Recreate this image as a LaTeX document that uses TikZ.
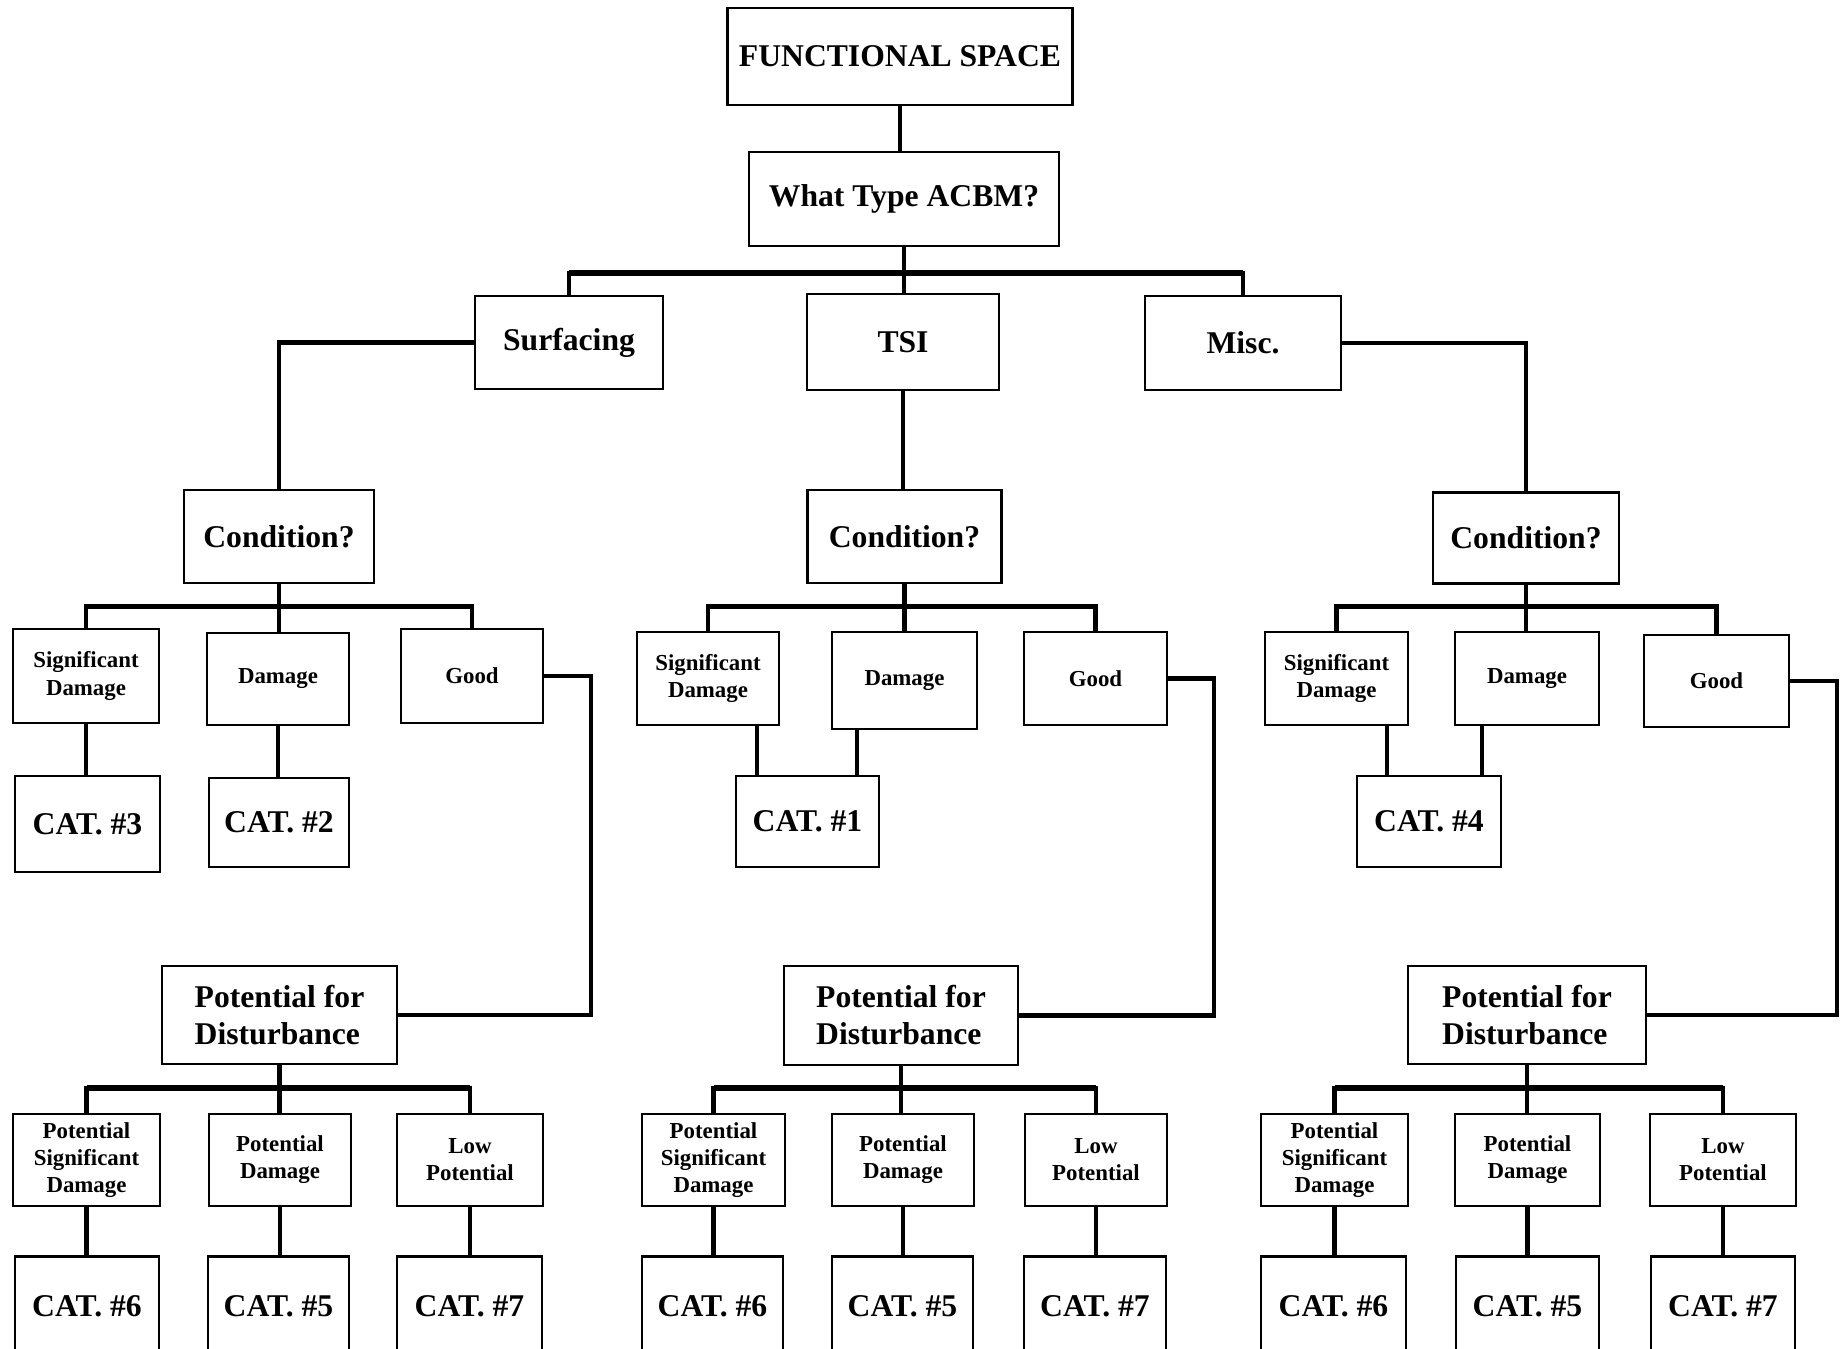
\documentclass[tikz,border=0pt]{standalone}
\usepackage{fontspec}
\setmainfont{Liberation Serif}
\usepackage{tikz}
\tikzset{
  box/.style={
    rectangle, draw=black, line width=0.75pt,
    inner sep=2pt, align=center,
    font=\bfseries\fontsize{9}{10.5}\selectfont
  },
  smallbox/.style={
    box, font=\bfseries\fontsize{6.5}{7.7}\selectfont
  },
  link/.style={line width=1.2pt},
  branch/.style={line width=1.7pt}
}
\begin{document}
\begin{tikzpicture}[x=0.01cm, y=-0.01cm]
  \useasboundingbox (0,0) rectangle (1843,1349);
  \clip (0,0) rectangle (1843,1349);
  \fill[white] (0,0) rectangle (1843,1349);

  % top of the tree
  \node[box, minimum width=3.45cm, minimum height=0.97cm] (space) at (900,56.5) {FUNCTIONAL SPACE};
  \node[box, minimum width=3.10cm, minimum height=0.94cm] (acbm) at (904,199) {What Type ACBM?};
  \node[box, minimum width=1.88cm, minimum height=0.93cm] (surf) at (569,342.5) {Surfacing};
  \node[box, minimum width=1.92cm, minimum height=0.96cm] (tsi) at (903,342) {TSI};
  \node[box, minimum width=1.96cm, minimum height=0.94cm] (misc) at (1243,343) {Misc.};

  % condition
  \node[box, minimum width=1.90cm, minimum height=0.93cm] (condA) at (279,536.5) {Condition?};
  \node[box, minimum width=1.94cm, minimum height=0.93cm] (condB) at (904.5,536.5) {Condition?};
  \node[box, minimum width=1.86cm, minimum height=0.91cm] (condC) at (1526,538) {Condition?};

  \node[smallbox, minimum width=1.46cm, minimum height=0.94cm] (sigA) at (86,676) {Significant\\Damage};
  \node[smallbox, minimum width=1.42cm, minimum height=0.92cm] (dmgA) at (278,679) {Damage};
  \node[smallbox, minimum width=1.42cm, minimum height=0.94cm] (goodA) at (472,676) {Good};
  \node[smallbox, minimum width=1.42cm, minimum height=0.93cm] (sigB) at (708,678.5) {Significant\\Damage};
  \node[smallbox, minimum width=1.45cm, minimum height=0.97cm] (dmgB) at (904.5,680.5) {Damage};
  \node[smallbox, minimum width=1.43cm, minimum height=0.93cm] (goodB) at (1095.5,678.5) {Good};
  \node[smallbox, minimum width=1.43cm, minimum height=0.93cm] (sigC) at (1336.5,678.5) {Significant\\Damage};
  \node[smallbox, minimum width=1.44cm, minimum height=0.93cm] (dmgC) at (1527,678.5) {Damage};
  \node[smallbox, minimum width=1.45cm, minimum height=0.92cm] (goodC) at (1716.5,681) {Good};

  \node[box, minimum width=1.45cm, minimum height=0.96cm] (cat3) at (87.5,824) {CAT. \#3};
  \node[box, minimum width=1.40cm, minimum height=0.89cm] (cat2) at (279,822.5) {CAT. \#2};
  \node[box, minimum width=1.43cm, minimum height=0.91cm] (cat1) at (807.5,821.5) {CAT. \#1};
  \node[box, minimum width=1.44cm, minimum height=0.91cm] (cat4) at (1429,821.5) {CAT. \#4};

  % potential for disturbance
  \node[box, minimum width=2.35cm, minimum height=0.98cm, align=left] (pdfA) at (279.5,1015) {Potential for\\Disturbance};
  \node[box, minimum width=2.34cm, minimum height=0.99cm, align=left] (pdfB) at (901,1015.5) {Potential for\\Disturbance};
  \node[box, minimum width=2.38cm, minimum height=0.98cm, align=left] (pdfC) at (1527,1015) {Potential for\\Disturbance};

  \node[smallbox, minimum width=1.47cm, minimum height=0.92cm] (psdA) at (86.5,1160) {Potential\\Significant\\Damage};
  \node[smallbox, minimum width=1.42cm, minimum height=0.92cm] (pdA) at (280,1160) {Potential\\Damage};
  \node[smallbox, minimum width=1.46cm, minimum height=0.92cm] (lowA) at (470,1160) {Low\\Potential};
  \node[smallbox, minimum width=1.43cm, minimum height=0.92cm] (psdB) at (713.5,1160) {Potential\\Significant\\Damage};
  \node[smallbox, minimum width=1.42cm, minimum height=0.92cm] (pdB) at (903,1160) {Potential\\Damage};
  \node[smallbox, minimum width=1.42cm, minimum height=0.92cm] (lowB) at (1096,1160) {Low\\Potential};
  \node[smallbox, minimum width=1.47cm, minimum height=0.92cm] (psdC) at (1334.5,1160) {Potential\\Significant\\Damage};
  \node[smallbox, minimum width=1.45cm, minimum height=0.92cm] (pdC) at (1527.5,1160) {Potential\\Damage};
  \node[smallbox, minimum width=1.46cm, minimum height=0.92cm] (lowC) at (1723,1160) {Low\\Potential};

  \node[box, minimum width=1.44cm, minimum height=1.00cm] (catA6) at (87,1306.5) {CAT. \#6};
  \node[box, minimum width=1.41cm, minimum height=1.00cm] (catA5) at (278.5,1306.5) {CAT. \#5};
  \node[box, minimum width=1.45cm, minimum height=1.00cm] (catA7) at (469.5,1306.5) {CAT. \#7};
  \node[box, minimum width=1.41cm, minimum height=1.00cm] (catB6) at (712.5,1306.5) {CAT. \#6};
  \node[box, minimum width=1.41cm, minimum height=1.00cm] (catB5) at (902.5,1306.5) {CAT. \#5};
  \node[box, minimum width=1.42cm, minimum height=1.00cm] (catB7) at (1095,1306.5) {CAT. \#7};
  \node[box, minimum width=1.45cm, minimum height=1.00cm] (catC6) at (1333.5,1306.5) {CAT. \#6};
  \node[box, minimum width=1.43cm, minimum height=1.00cm] (catC5) at (1527.5,1306.5) {CAT. \#5};
  \node[box, minimum width=1.44cm, minimum height=1.00cm] (catC7) at (1723,1306.5) {CAT. \#7};

  % junctions and turns
  \coordinate (jTop) at (904,273);
  \coordinate (jA) at (279,606.5);
  \coordinate (jB) at (904.5,606.5);
  \coordinate (jC) at (1526,606.5);
  \coordinate (jPA) at (279.5,1088);
  \coordinate (jPB) at (901,1088);
  \coordinate (jPC) at (1527,1088);
  \coordinate (turnA) at (591,0);
  \coordinate (turnB) at (1214,0);
  \coordinate (turnC) at (1837,0);
  \coordinate (kB1) at (757,0);
  \coordinate (kB2) at (857,0);
  \coordinate (kC1) at (1387,0);
  \coordinate (kC2) at (1482,0);

  % connectors
  \draw[link] (space.south) -- (space.south |- acbm.north);
  \draw[link] (acbm.south) -- (acbm.south |- tsi.north);
  \draw[link] (surf.north) |- (jTop) -| (misc.north);
  \draw[branch] (surf.north |- jTop) -- (misc.north |- jTop);
  \draw[link] (surf.west) -| (condA.north);
  \draw[link] (tsi.south) -- (tsi.south |- condB.north);
  \draw[link] (misc.east) -| (condC.north);

  \draw[link] (sigA.north) |- (jA) -| (goodA.north);
  \draw[branch] (sigA.north |- jA) -- (goodA.north |- jA);
  \draw[link] (condA.south) -- (condA.south |- dmgA.north);
  \draw[link] (sigB.north) |- (jB) -| (goodB.north);
  \draw[branch] (sigB.north |- jB) -- (goodB.north |- jB);
  \draw[link] (condB.south) -- (condB.south |- dmgB.north);
  \draw[link] (sigC.north) |- (jC) -| (goodC.north);
  \draw[branch] (sigC.north |- jC) -- (goodC.north |- jC);
  \draw[link] (condC.south) -- (condC.south |- dmgC.north);

  \draw[link] (sigA.south) -- (sigA.south |- cat3.north);
  \draw[link] (dmgA.south) -- (dmgA.south |- cat2.north);
  \draw[link] (sigB.south -| kB1) -- (cat1.north -| kB1);
  \draw[link] (dmgB.south -| kB2) -- (cat1.north -| kB2);
  \draw[link] (sigC.south -| kC1) -- (cat4.north -| kC1);
  \draw[link] (dmgC.south -| kC2) -- (cat4.north -| kC2);

  \draw[link] (goodA.east) -- (goodA.east -| turnA) |- (pdfA.east);
  \draw[link] (goodB.east) -- (goodB.east -| turnB) |- (pdfB.east);
  \draw[link] (goodC.east) -- (goodC.east -| turnC) |- (pdfC.east);

  \draw[link] (psdA.north) |- (jPA) -| (lowA.north);
  \draw[branch] (psdA.north |- jPA) -- (lowA.north |- jPA);
  \draw[link] (pdfA.south) -- (pdfA.south |- pdA.north);
  \draw[link] (psdB.north) |- (jPB) -| (lowB.north);
  \draw[branch] (psdB.north |- jPB) -- (lowB.north |- jPB);
  \draw[link] (pdfB.south) -- (pdfB.south |- pdB.north);
  \draw[link] (psdC.north) |- (jPC) -| (lowC.north);
  \draw[branch] (psdC.north |- jPC) -- (lowC.north |- jPC);
  \draw[link] (pdfC.south) -- (pdfC.south |- pdC.north);

  \draw[link] (psdA.south) -- (psdA.south |- catA6.north);
  \draw[link] (pdA.south) -- (pdA.south |- catA5.north);
  \draw[link] (lowA.south) -- (lowA.south |- catA7.north);
  \draw[link] (psdB.south) -- (psdB.south |- catB6.north);
  \draw[link] (pdB.south) -- (pdB.south |- catB5.north);
  \draw[link] (lowB.south) -- (lowB.south |- catB7.north);
  \draw[link] (psdC.south) -- (psdC.south |- catC6.north);
  \draw[link] (pdC.south) -- (pdC.south |- catC5.north);
  \draw[link] (lowC.south) -- (lowC.south |- catC7.north);
\end{tikzpicture}
\end{document}
